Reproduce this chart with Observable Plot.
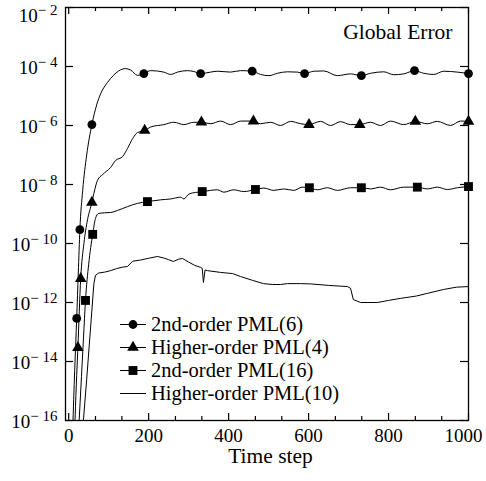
<!DOCTYPE html>
<html><head><meta charset="utf-8">
<script src="https://cdn.jsdelivr.net/npm/d3@7"></script>
<script src="https://cdn.jsdelivr.net/npm/@observablehq/plot@0.6"></script>
<style>
html,body{margin:0;padding:0;background:#fff;}
#wrap{position:relative;width:486px;height:481px;font-family:"Liberation Serif","Times New Roman",serif;color:#000;}
#legend{position:absolute;left:120px;top:313px;font-size:20.5px;line-height:23px;}
.row{display:flex;align-items:center;height:23px;white-space:nowrap;}
.row svg{width:26px;height:23px;margin-right:5px;flex:none;overflow:visible;}
</style></head><body><div id="wrap"></div>
<script>
// ---- data (time step, log10 of global error) ----
const pml6_t = [10,15,20,24,28,35,45,58,70,80,97,112,125,142,155,172,188,205,238,255,272,297,313,330,355,372,405,430,459,480,501,522,547,572,590,613,638,672,705,732,755,788,813,838,865,888,913,938,972,1000];
const pml6_exp = [-16.3,-14.3,-12.54,-11.0,-9.53,-8.2,-7.0,-5.97,-5.3,-4.92,-4.54,-4.3,-4.15,-4.07,-4.12,-4.3,-4.24,-4.14,-4.19,-4.27,-4.19,-4.14,-4.17,-4.24,-4.19,-4.16,-4.19,-4.14,-4.16,-4.27,-4.31,-4.23,-4.18,-4.19,-4.24,-4.16,-4.15,-4.31,-4.25,-4.31,-4.23,-4.18,-4.28,-4.25,-4.14,-4.23,-4.27,-4.16,-4.19,-4.24];
const pml6_markT = [20,28,58,188,330,459,590,732,865,1000];
const pml6_markExp = [-12.54,-9.53,-5.97,-4.24,-4.24,-4.16,-4.24,-4.31,-4.14,-4.24];

const hpml4_t = [15,19,23,30,38,47,58,63,72,85,105,117,135,147,160,172,190,205,238,263,288,313,332,355,380,405,430,462,480,505,530,555,580,601,630,655,680,705,728,755,780,805,838,867,897,922,955,980,1000];
const hpml4_exp = [-16.3,-14.8,-13.53,-11.19,-10.0,-9.2,-8.61,-8.3,-7.86,-7.66,-7.42,-7.19,-7.05,-6.78,-6.44,-6.24,-6.17,-6.05,-5.97,-5.89,-5.97,-5.89,-5.89,-5.94,-5.85,-5.97,-5.85,-5.85,-5.94,-5.89,-6.0,-5.86,-5.94,-5.97,-5.86,-6.0,-5.87,-5.97,-5.97,-5.89,-6.0,-5.85,-5.97,-5.86,-5.94,-5.86,-6.0,-5.85,-5.86];
const hpml4_markT = [23,30,58,190,332,462,601,728,867,1000];
const hpml4_markExp = [-13.53,-11.19,-8.61,-6.17,-5.89,-5.85,-5.97,-5.97,-5.86,-5.86];

const pml16_t = [25,32,37,42,50,60,67,75,90,105,122,147,172,197,230,255,280,288,301,334,355,372,388,413,438,467,488,513,538,563,584,602,622,647,672,705,732,755,780,805,838,872,897,922,947,972,1000];
const pml16_exp = [-16.3,-14.5,-13.2,-11.93,-10.7,-9.69,-9.15,-8.98,-8.96,-8.95,-8.88,-8.75,-8.64,-8.58,-8.52,-8.49,-8.43,-8.49,-8.32,-8.24,-8.2,-8.18,-8.26,-8.18,-8.24,-8.17,-8.12,-8.2,-8.15,-8.2,-8.09,-8.11,-8.18,-8.11,-8.2,-8.11,-8.11,-8.15,-8.09,-8.18,-8.09,-8.09,-8.15,-8.09,-8.17,-8.11,-8.07];
const pml16_markT = [42,60,197,334,467,602,732,872,1000];
const pml16_markExp = [-11.93,-9.69,-8.58,-8.24,-8.17,-8.11,-8.11,-8.09,-8.07];

const hpml10_t = [35,45,55,63,67,75,90,105,120,135,147,160,180,200,222,240,250,262,275,285,300,315,330,334,337,341,347,380,410,430,460,487,510,530,547,580,605,650,697,705,712,730,772,800,830,870,897,937,970,1000];
const hpml10_exp = [-16.3,-14.6,-12.8,-11.36,-11.08,-11.0,-10.97,-10.92,-10.85,-10.8,-10.78,-10.6,-10.56,-10.5,-10.44,-10.5,-10.55,-10.61,-10.53,-10.51,-10.63,-10.74,-10.81,-10.84,-11.32,-10.9,-10.92,-10.98,-11.02,-11.12,-11.25,-11.36,-11.39,-11.39,-11.36,-11.36,-11.37,-11.42,-11.46,-11.52,-11.9,-12.0,-12.0,-11.93,-11.86,-11.78,-11.69,-11.56,-11.48,-11.46];

const legendLabels = ["2nd-order PML(6)","Higher-order PML(4)","2nd-order PML(16)","Higher-order PML(10)"];
const legendSymbols = ["circle","triangle","square",null];
const yTickExps = [-2,-4,-6,-8,-10,-12,-14,-16];
const xMajorTicks = [0,200,400,600,800,1000];
const xMinorTicks = [67,133,267,333,467,533,667,733,867,933];
const titleText = "Global Error";
const xLabel = "Time step";

// ---- layout ----
const W=486,H=481,ML=65,MR=18,MT=7,MB=61;
const plotW=W-ML-MR, plotH=H-MT-MB;
const FONT='"Liberation Serif","Times New Roman",serif';

const rows=(t,e)=>t.map((x,i)=>({t:x,err:Math.pow(10,e[i])}));
const s6=rows(pml6_t,pml6_exp), s4=rows(hpml4_t,hpml4_exp), s16=rows(pml16_t,pml16_exp), s10=rows(hpml10_t,hpml10_exp);
const m6=rows(pml6_markT,pml6_markExp), m4=rows(hpml4_markT,hpml4_markExp), m16=rows(pml16_markT,pml16_markExp);
const yTicks = yTickExps.map(e=>({v:Math.pow(10,e),lab:"10^\u2212 "+(-e)}));

const lineOpts={x:"t",y:"err",stroke:"black",strokeWidth:1,clip:true};
const svg = Plot.plot({
  width:W,height:H,marginLeft:ML,marginRight:MR,marginTop:MT,marginBottom:MB,
  style:{fontFamily:FONT,background:"white",color:"black"},
  x:{type:"linear",domain:[-8,1000],axis:null},
  y:{type:"log",domain:[1e-16,1e-2],axis:null},
  marks:[
    Plot.line(s10,{...lineOpts,curve:"linear"}),
    Plot.line(s16,{...lineOpts,curve:"monotone-x"}),
    Plot.line(s4,{...lineOpts,curve:"monotone-x"}),
    Plot.line(s6,{...lineOpts,curve:"monotone-x"}),
    Plot.dot(m6,{x:"t",y:"err",symbol:"circle",r:4.4,fill:"black",stroke:"none"}),
    Plot.dot(m4,{x:"t",y:"err",symbol:"triangle",r:4.3,fill:"black",stroke:"none"}),
    Plot.dot(m16,{x:"t",y:"err",symbol:"square",r:5,fill:"black",stroke:"none"}),
    Plot.frame({stroke:"black",strokeWidth:1.3}),
    Plot.tickY(yTicks,{y:"v",insetRight:plotW-8,stroke:"black",strokeWidth:1.2}),
    Plot.tickY(yTicks,{y:"v",insetLeft:plotW-8,stroke:"black",strokeWidth:1.2}),
    Plot.tickX(xMajorTicks,{x:d=>d,insetTop:plotH-7,stroke:"black",strokeWidth:1.2}),
    Plot.tickX(xMajorTicks,{x:d=>d,insetBottom:plotH-7,stroke:"black",strokeWidth:1.2}),
    Plot.tickX(xMinorTicks,{x:d=>d,insetTop:plotH-4,stroke:"black",strokeWidth:1.2}),
    Plot.tickX(xMinorTicks,{x:d=>d,insetBottom:plotH-4,stroke:"black",strokeWidth:1.2}),
    Plot.text(xMajorTicks.slice(0,-1),{x:d=>d,text:d=>String(d),frameAnchor:"bottom",lineAnchor:"top",dy:8,fontSize:19,fill:"black"}),
    Plot.text(xMajorTicks.slice(-1),{x:d=>d,text:d=>String(d),frameAnchor:"bottom",lineAnchor:"top",dy:8,dx:-5,fontSize:19,fill:"black"}),
    Plot.text(yTicks.slice(1),{y:"v",text:"lab",frameAnchor:"left",textAnchor:"end",lineAnchor:"middle",dx:-8,dy:1,fontSize:19,fill:"black"}),
    Plot.text(yTicks.slice(0,1),{y:"v",text:"lab",frameAnchor:"left",textAnchor:"end",lineAnchor:"middle",dx:-8,dy:8,fontSize:19,fill:"black"}),
    Plot.text([titleText],{text:d=>d,frameAnchor:"top-right",textAnchor:"end",lineAnchor:"middle",dx:-16,dy:24.5,fontSize:21.5,fill:"black"}),
    Plot.text([xLabel],{text:d=>d,frameAnchor:"bottom",lineAnchor:"middle",dx:3.5,dy:36,fontSize:21.5,fill:"black"})
  ]
});

d3.select(svg).selectAll("text").filter(function(){return this.textContent.indexOf("^")>=0;}).each(function(){
  const parts=this.textContent.split("^");
  const t=d3.select(this); t.selectAll("*").remove(); t.text(null);
  t.append("tspan").text(parts[0]);
  t.append("tspan").attr("dy","-7").attr("font-size","15").text(parts[1]);
});

const wrap=document.getElementById("wrap");
wrap.appendChild(svg);

// ---- legend ----
const leg=d3.select(wrap).append("div").attr("id","legend");
legendLabels.forEach((lab,i)=>{
  const row=leg.append("div").attr("class","row");
  const sw=row.append("svg").attr("viewBox","0 0 26 23");
  sw.append("line").attr("x1",0).attr("x2",26).attr("y1",11.5).attr("y2",11.5).attr("stroke","black").attr("stroke-width",1);
  const sym=legendSymbols[i];
  if(sym){
    const gen={circle:d3.symbolCircle,triangle:d3.symbolTriangle,square:d3.symbolSquare}[sym];
    const r={circle:4.4,triangle:4.3,square:5}[sym];
    sw.append("path").attr("transform","translate(13,11.5)").attr("d",d3.symbol(gen,r*r*Math.PI)()).attr("fill","black");
  }
  row.append("span").text(lab);
});
</script></body></html>
